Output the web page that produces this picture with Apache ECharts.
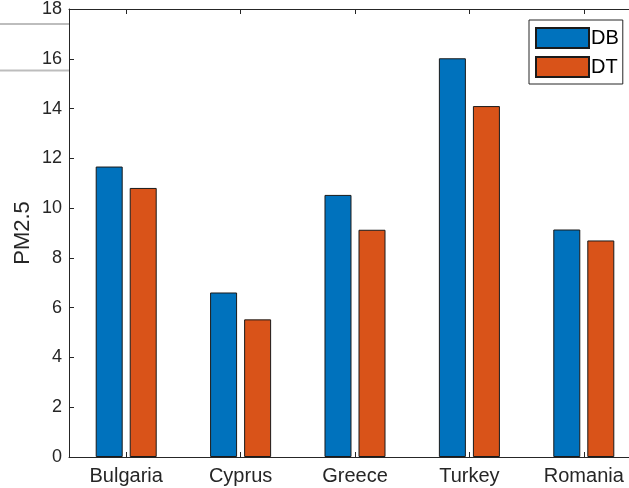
<!DOCTYPE html>
<html>
<head>
<meta charset="utf-8">
<script src="https://cdn.jsdelivr.net/npm/echarts@6/dist/echarts.min.js"></script>
<style>
  html, body { margin: 0; padding: 0; background: #fff; overflow: hidden; }
  /* the axes box runs past the right edge of the visible page */
  #chart { width: 660px; height: 488px; }
</style>
</head>
<body>
<div id="chart"></div>
<script>
// PM2.5 by country, two scenarios
const categories = ['Bulgaria', 'Cyprus', 'Greece', 'Turkey', 'Romania'];
const seriesNames = ['DB', 'DT'];
const dbValues = [11.67, 6.61, 10.53, 16.02, 9.14];
const dtValues = [10.81, 5.53, 9.13, 14.10, 8.70];
const yTicks = [0, 2, 4, 6, 8, 10, 12, 14, 16, 18];

const axisColor = '#262626';
const fontFamily = '"Liberation Sans", Arial, Helvetica, sans-serif';

const chart = echarts.init(document.getElementById('chart'), null, { renderer: 'canvas' });

const barStyle = (color) => ({ color: color, borderColor: '#1a1a1a', borderWidth: 1 });

chart.setOption({
  animation: false,
  backgroundColor: '#ffffff',
  textStyle: { fontFamily: fontFamily },
  grid: { left: 69, top: 7, width: 572, height: 450, containLabel: false },
  legend: {
    orient: 'vertical',
    left: 529,
    top: 20,
    padding: [7, 4, 6, 6],
    itemWidth: 53,
    itemHeight: 20,
    itemGap: 7,
    borderColor: '#262626',
    borderWidth: 1,
    backgroundColor: '#ffffff',
    selectedMode: false,
    textStyle: { fontSize: 20, color: '#000', padding: [0, 0, 0, -3], fontFamily: fontFamily },
    data: seriesNames.map(n => ({ name: n, icon: 'rect' }))
  },
  xAxis: [
    {
      type: 'category',
      data: categories,
      position: 'bottom',
      boundaryGap: true,
      axisLine: { show: true, lineStyle: { color: axisColor, width: 1 } },
      axisTick: { show: true, inside: true, alignWithLabel: true, length: 5, lineStyle: { color: axisColor } },
      axisLabel: { color: axisColor, fontSize: 20, margin: 9, fontFamily: fontFamily },
      splitLine: { show: false }
    },
    {
      type: 'category',
      data: categories,
      position: 'top',
      boundaryGap: true,
      axisLine: { show: true, lineStyle: { color: axisColor, width: 1 } },
      axisTick: { show: true, inside: true, alignWithLabel: true, length: 5, lineStyle: { color: axisColor } },
      axisLabel: { show: false },
      splitLine: { show: false }
    }
  ],
  yAxis: {
    type: 'value',
    min: yTicks[0],
    max: yTicks[yTicks.length - 1],
    interval: 2,
    name: 'PM2.5',
    nameLocation: 'middle',
    nameGap: 35,
    nameMoveOverlap: false,
    nameRotate: 90,
    nameTextStyle: { color: axisColor, fontSize: 22, fontFamily: fontFamily },
    axisLine: { show: true, lineStyle: { color: axisColor, width: 1 } },
    axisTick: { show: true, inside: true, length: 5, lineStyle: { color: axisColor } },
    axisLabel: { color: axisColor, fontSize: 18, margin: 7, fontFamily: fontFamily },
    splitLine: { show: false }
  },
  series: [
    {
      name: seriesNames[0],
      type: 'bar',
      data: dbValues,
      barWidth: 27,
      barGap: '26%',
      itemStyle: barStyle('#0072BD')
    },
    {
      name: seriesNames[1],
      type: 'bar',
      data: dtValues,
      barWidth: 27,
      barGap: '26%',
      itemStyle: barStyle('#D95319')
    }
  ],
  graphic: [
    // ruled lines of the page behind the figure, upper left margin
    { type: 'line', z: -1, shape: { x1: 0, y1: 24, x2: 69, y2: 24 }, style: { stroke: '#bdbdbd', lineWidth: 2 } },
    { type: 'line', z: -1, shape: { x1: 0, y1: 70.5, x2: 69, y2: 70.5 }, style: { stroke: '#bdbdbd', lineWidth: 2 } }
  ]
});
</script>
</body>
</html>
